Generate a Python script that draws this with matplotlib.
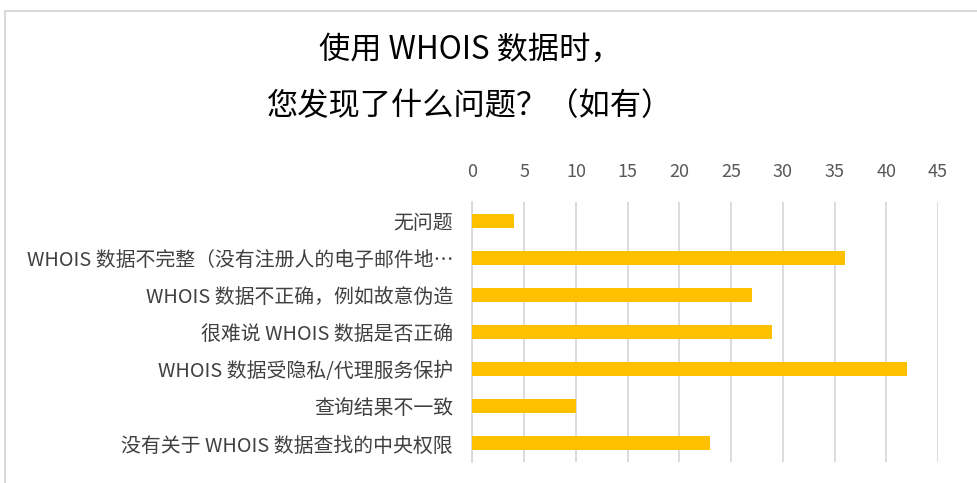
import matplotlib
matplotlib.use("Agg")
import matplotlib.pyplot as plt
from matplotlib.patches import Rectangle

plt.rcParams['font.family'] = ['Noto Sans CJK SC', 'DejaVu Sans']

categories = [
    "无问题",
    "WHOIS 数据不完整（没有注册人的电子邮件地…",
    "WHOIS 数据不正确，例如故意伪造",
    "很难说 WHOIS 数据是否正确",
    "WHOIS 数据受隐私/代理服务保护",
    "查询结果不一致",
    "没有关于 WHOIS 数据查找的中央权限",
]
values = [4, 36, 27, 29, 42, 10, 23]
xticks = [0, 5, 10, 15, 20, 25, 30, 35, 40, 45]
title_lines = ["使用 WHOIS 数据时，", "您发现了什么问题？（如有）"]

W, H = 978, 483
fig = plt.figure(figsize=(W / 100, H / 100), dpi=100)

# outer chart frame
fig.patches.append(Rectangle((5 / W, -0.05), 1.1, 1 - 11 / H + 0.05,
                             transform=fig.transFigure, fill=False,
                             edgecolor='#d9d9d9', linewidth=1.5))

ax = fig.add_axes([472.5 / W, 1 - 462 / H, (938 - 472.5) / W, (462 - 202) / H])
y = list(range(len(categories)))
ax.barh(y, values, height=0.38, color='#FFC000', zorder=3)
ax.set_xlim(0, 45)
ax.set_ylim(len(categories) - 0.5, -0.5)
ax.set_xticks(xticks)
ax.set_xticklabels([str(t) for t in xticks])
ax.set_yticks(y)
ax.set_yticklabels(categories)
ax.xaxis.tick_top()
ax.tick_params(axis='x', length=0, pad=15, labelsize=13, colors='#595959')
ax.tick_params(axis='y', length=0, pad=14, labelsize=14.3, colors='#404040')
ax.grid(axis='x', color='#d9d9d9', linewidth=1.3, zorder=0)
for s in ['top', 'right', 'bottom']:
    ax.spines[s].set_visible(False)
ax.spines['left'].set_color('#d9d9d9')
ax.spines['left'].set_linewidth(1.3)

fig.text(470 / W, 1 - 50 / H, title_lines[0], ha='center', va='center',
         fontsize=22.5, color='#000000')
fig.text(470 / W, 1 - 106 / H, title_lines[1], ha='center', va='center',
         fontsize=22.5, color='#000000')

fig.savefig('out.png', dpi=100)
